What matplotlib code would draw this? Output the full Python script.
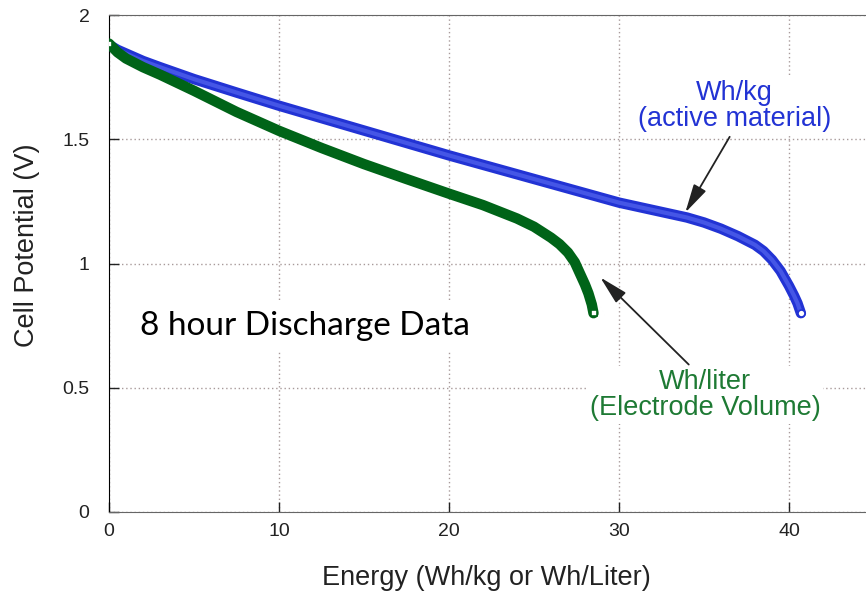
import numpy as np
import matplotlib
matplotlib.use("Agg")
import matplotlib.pyplot as plt

# energy (Wh/kg or Wh/L) vs cell potential (V)
kg_energy = [0, 0.5, 1, 2, 3, 5, 7.5, 10, 15, 20, 25, 30, 32, 34, 35, 36,
             37, 38, 38.5, 39, 39.5, 40, 40.3, 40.5, 40.7]
kg_volt = [1.88, 1.86, 1.845, 1.815, 1.79, 1.742, 1.688, 1.635, 1.535, 1.435,
           1.34, 1.245, 1.215, 1.185, 1.165, 1.14, 1.11, 1.075, 1.05, 1.015,
           0.97, 0.91, 0.87, 0.84, 0.80]

liter_energy = [0, 0.5, 1, 2, 3, 5, 7.5, 10, 12.5, 15, 17.5, 20, 22, 24, 25,
                26, 26.5, 27, 27.4, 27.7, 28, 28.2, 28.4, 28.5]
liter_volt = [1.885, 1.85, 1.825, 1.79, 1.76, 1.695, 1.61, 1.534, 1.465, 1.40,
              1.34, 1.281, 1.235, 1.181, 1.148, 1.104, 1.078, 1.044, 1.005,
              0.96, 0.915, 0.88, 0.835, 0.80]

xticks = [0, 10, 20, 30, 40]
yticks = [0, 0.5, 1, 1.5, 2]

blue = "#2233d4"
green = "#006418"

plt.rcParams['font.family'] = ['Liberation Sans', 'DejaVu Sans']

fig = plt.figure(figsize=(8.66, 5.95), dpi=100)
ax = fig.add_axes([109/866, 83/595, 765/866, 497/595])

# wh/kg curve (dense open circles drawn as a thick band)
ax.plot(kg_energy, kg_volt, color=blue, lw=7.5, solid_capstyle='round',
        solid_joinstyle='round', zorder=3)
ax.plot(kg_energy, kg_volt, color="#4556e6", lw=3, solid_capstyle='round',
        solid_joinstyle='round', zorder=3)
ax.plot(kg_energy[-1], kg_volt[-1], 'o', ms=5, mfc='white', mec=blue, mew=1.2, zorder=5)

# wh/liter curve
ax.plot(liter_energy, liter_volt, color=green, lw=7.5, solid_capstyle='round',
        solid_joinstyle='round', zorder=4)
ax.plot(liter_energy[-1], liter_volt[-1], 's', ms=5, mfc='white', mec=green, mew=1.2, zorder=5)
ax.plot(liter_energy[0], liter_volt[0], 's', ms=5, mfc='white', mec=green, mew=1.2, zorder=5)

ax.set_xlim(0, 45)
ax.set_ylim(0, 2)
ax.set_xticks(xticks)
ax.set_yticks(yticks)
ax.set_xticklabels([str(t) for t in xticks])
ax.set_yticklabels(['0', '0.5', '1', '1.5', '2'])
ax.tick_params(direction='in', length=7, width=1, colors='#222222', labelsize=14)
ax.tick_params(axis='y', pad=14)
ax.tick_params(axis='x', pad=8)
ax.grid(True, ls=(0, (1, 2)), color='#a89a9a', lw=1)
ax.set_axisbelow(True)
for s in ['top', 'bottom', 'right']:
    ax.spines[s].set_color('#666666')
ax.spines['left'].set_color('black')

fig.text(486/866, 1 - 578/595, "Energy (Wh/kg or Wh/Liter)", ha='center', va='center',
         fontsize=19.5, color='#222222')
fig.text(27/866, 1 - 245/595, "Cell Potential (V)", ha='center', va='center',
         rotation=90, fontsize=19.5, color='#222222')

ax.text(1.8, 0.75, "8 hour Discharge Data", family=['Lato', 'DejaVu Sans'],
        fontsize=24, ha='left', va='center', zorder=6,
        bbox=dict(facecolor='white', edgecolor='none', pad=8))

ax.annotate("Wh/kg\n(active material)", xy=(33.9, 1.205), xytext=(36.8, 1.635),
            ha='center', va='center', multialignment='center', fontsize=19.5,
            color=blue, linespacing=1.0, zorder=6,
            bbox=dict(facecolor='white', edgecolor='none', pad=2),
            arrowprops=dict(arrowstyle='-|>,head_length=0.9,head_width=0.22',
                            color='#222222', lw=1.3, shrinkA=2, shrinkB=0,
                            relpos=(0.49, 0)))
ax.annotate("Wh/liter\n(Electrode Volume)", xy=(28.9, 0.944), xytext=(35.06, 0.47),
            ha='center', va='center', multialignment='center', fontsize=19.5,
            color='#1e7a34', linespacing=1.0, zorder=6,
            bbox=dict(facecolor='white', edgecolor='none', pad=2),
            arrowprops=dict(arrowstyle='-|>,head_length=0.9,head_width=0.22',
                            color='#222222', lw=1.3, shrinkA=2, shrinkB=0,
                            relpos=(0.45, 1)))

fig.savefig("out.png", dpi=100)
